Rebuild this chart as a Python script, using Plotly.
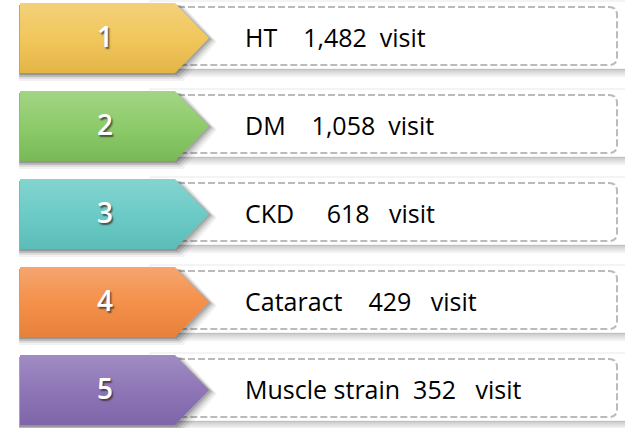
import plotly.graph_objects as go

ranks = ["1", "2", "3", "4", "5"]
diseases = ["HT", "DM", "CKD", "Cataract", "Muscle strain"]
visits = [1482, 1058, 618, 429, 352]
unit = "visit"
gap_before = [4, 4, 5, 4, 2]
gap_after = [2, 2, 3, 3, 3]

colors_top = ["#F3D07A", "#A2D584", "#84D4CF", "#F5A56F", "#A08CC3"]
colors_mid = ["#F1C75C", "#8ECB6B", "#6CCBC7", "#F4914A", "#8F76B7"]
colors_bot = ["#E4B547", "#78B956", "#5CBCB8", "#E7803A", "#7E65A8"]

W, H = 625, 428
TOP0, STEP, AH = 3, 88, 70
X0, XR, XT = 20, 175, 209

fig = go.Figure()
shapes = []
ann = []
NB = "\u00a0"

for i in range(len(ranks)):
    t = TOP0 + STEP * i
    # panel shadow (gradient band below panel)
    fig.add_trace(go.Scatter(
        x=[X0, W, W, X0, X0], y=[t + 66, t + 66, t + 75, t + 75, t + 66],
        mode="lines", line=dict(width=0), fill="toself",
        fillgradient=dict(type="vertical", colorscale=[[0, "rgba(0,0,0,0)"], [1, "rgba(0,0,0,0.22)"]]),
        hoverinfo="skip", showlegend=False))
    # panel
    shapes.append(dict(type="rect", x0=150, x1=W + 2, y0=t - 2, y1=t + 66,
                       line=dict(color="#E8E8E8", width=1), fillcolor="white", layer="below"))
    # dashed box
    yt, yb, xr, r = t + 4, t + 62, 617, 8
    path = (f"M 178,{yt} L {xr - r},{yt} Q {xr},{yt} {xr},{yt + r} "
            f"L {xr},{yb - r} Q {xr},{yb} {xr - r},{yb} L 178,{yb} Z")
    shapes.append(dict(type="path", path=path, line=dict(color="#BBBBBB", width=2, dash="7px,3px"),
                       fillcolor="white", layer="below"))
    # arrow shadow (soft)
    for k, a in [(8, 0.05), (6, 0.08), (4, 0.12), (2, 0.15)]:
        fig.add_trace(go.Scatter(
            x=[X0 - 1, XR + k, XT + k, XR + k, X0 - 1, X0 - 1],
            y=[t + 2, t + 2, t + 35 + k * 0.5, t + AH + k, t + AH + k, t + 2],
            mode="lines", line=dict(width=0), fill="toself", fillcolor=f"rgba(0,0,0,{a})",
            hoverinfo="skip", showlegend=False))
    # arrow
    fig.add_trace(go.Scatter(
        x=[X0, XR, XT, XR, X0, X0], y=[t, t, t + AH / 2, t + AH, t + AH, t],
        mode="lines", line=dict(width=0), fill="toself",
        fillgradient=dict(type="vertical",
                          colorscale=[[0, colors_bot[i]], [0.5, colors_mid[i]], [1, colors_top[i]]]),
        hoverinfo="skip", showlegend=False))
    # rank number
    ann.append(dict(x=105, y=t + 32.5, text=ranks[i], showarrow=False,
                    font=dict(family="Open Sans", size=28, color="white", weight=600)))
    label = f"{diseases[i]}{NB * gap_before[i]}{visits[i]:,}{NB * gap_after[i]}{unit}"
    ann.append(dict(x=243, y=t + 34, text=label, showarrow=False, xanchor="left",
                    font=dict(family="Open Sans", size=25, color="black")))

fig.update_layout(
    width=W, height=H, margin=dict(l=0, r=0, t=0, b=0),
    paper_bgcolor="white", plot_bgcolor="white",
    xaxis=dict(range=[0, W], visible=False, fixedrange=True),
    yaxis=dict(range=[H, 0], visible=False, fixedrange=True),
    shapes=shapes, annotations=ann, showlegend=False,
)
post = """
document.body.style.margin='0';document.body.style.overflow='hidden';
document.querySelectorAll('text.annotation-text').forEach(function(el){
  var f = (el.style.fill||'').replace(/\\s/g,'');
  if (f === 'rgb(255,255,255)' || f === '#ffffff' || f === 'white') {
    el.style.textShadow = '1.5px 1.5px 1.5px rgba(40,40,40,0.7)';
  }
});
"""
fig.write_html("out.html", config={"displayModeBar": False}, post_script=post)
